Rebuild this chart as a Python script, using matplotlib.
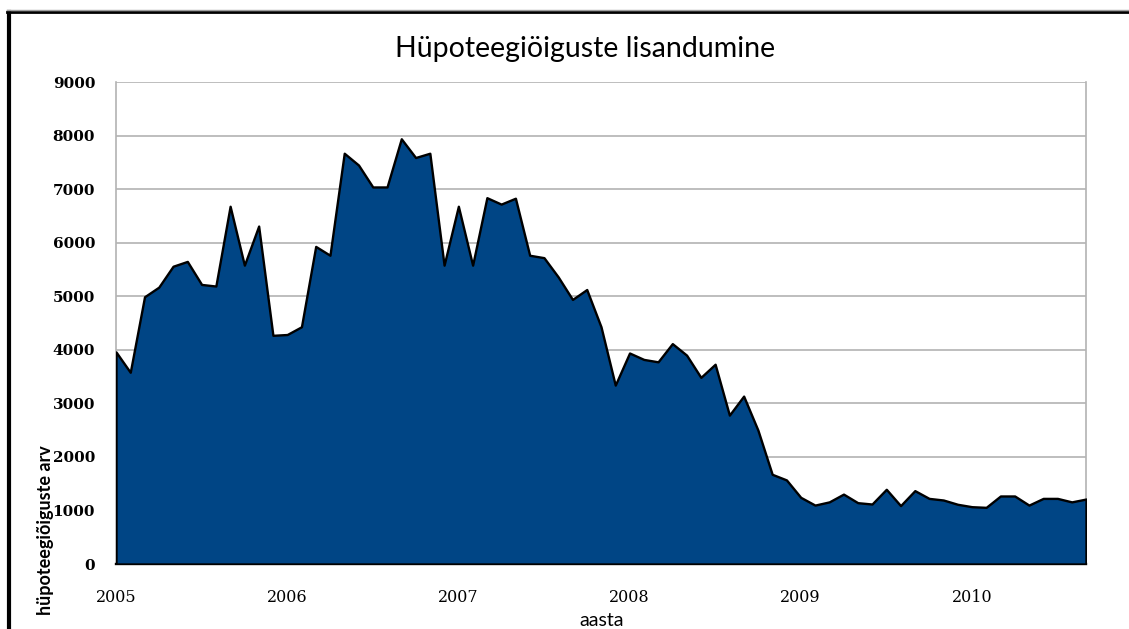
import matplotlib
matplotlib.use('Agg')
import matplotlib.pyplot as plt
from matplotlib.lines import Line2D

# ---- data (monthly, Jan 2005 - Sep 2010) ----
year_ticks = [2005, 2006, 2007, 2008, 2009, 2010]
year_labels = ['2005', '2006', '2007', '2008', '2009', '2010']
values_2005 = [3960, 3580, 4990, 5170, 5560, 5650, 5220, 5190, 6680, 5580, 6310, 4270]
values_2006 = [4285, 4430, 5930, 5765, 7670, 7450, 7040, 7040, 7940, 7590, 7670, 5580]
values_2007 = [6680, 5580, 6840, 6720, 6830, 5765, 5720, 5360, 4940, 5125, 4430, 3340]
values_2008 = [3940, 3820, 3775, 4115, 3900, 3485, 3730, 2780, 3135, 2500, 1675, 1570]
values_2009 = [1245, 1100, 1160, 1305, 1145, 1120, 1395, 1090, 1370, 1225, 1195, 1115]
values_2010 = [1070, 1058, 1270, 1270, 1100, 1225, 1225, 1160, 1213]
y_ticks = [0, 1000, 2000, 3000, 4000, 5000, 6000, 7000, 8000, 9000]

values = values_2005 + values_2006 + values_2007 + values_2008 + values_2009 + values_2010
x = [2005 + i / 12 for i in range(len(values))]

W, H = 1129, 629
fig = plt.figure(figsize=(W / 100, H / 100), dpi=100)
ax = fig.add_axes([116 / W, 65 / H, 970 / W, 482 / H])

ax.fill_between(x, values, 0, facecolor='#004585', edgecolor='black',
                linewidth=1.7, zorder=3)

ax.set_xlim(x[0], x[-1])
ax.set_ylim(0, 9000)
ax.set_yticks(y_ticks)
ax.set_yticklabels([str(v) for v in y_ticks], family='DejaVu Serif',
                   fontweight='bold', fontsize=11)
ax.set_xticks(year_ticks)
ax.set_xticklabels(year_labels, family='DejaVu Serif', fontsize=11.5)
ax.tick_params(axis='both', length=0)
ax.tick_params(axis='y', pad=15)
ax.tick_params(axis='x', pad=18)
ax.grid(axis='y', color='#b3b3b3', linewidth=1.2)
ax.set_axisbelow(True)
ax.spines['top'].set_visible(False)
for s in ('left', 'right'):
    ax.spines[s].set_color('#b3b3b3')
    ax.spines[s].set_linewidth(1.2)
ax.spines['bottom'].set_color('black')
ax.spines['bottom'].set_linewidth(1.7)

fig.text(585 / W, 1 - 57 / H, 'Hüpoteegiöiguste lisandumine', ha='center',
         va='baseline', fontsize=20.5, family='Lato')
fig.text(602 / W, 1 - 620 / H, 'aasta', ha='center', va='center',
         fontsize=14, family='Lato')
fig.text(46 / W, 1 - 530 / H, 'hüpoteegiõiguste arv', ha='center', va='center',
         rotation=90, fontsize=13, family='Lato', fontweight='bold')

# outer frame (top and left edges visible)
fig.add_artist(Line2D([7 / W, 1], [1 - 12 / H, 1 - 12 / H], color='black',
                      linewidth=2, transform=fig.transFigure))
fig.add_artist(Line2D([9 / W, 9 / W], [0, 1 - 12 / H], color='black',
                      linewidth=3, transform=fig.transFigure))
fig.add_artist(Line2D([7 / W, 1], [1 - 10 / H, 1 - 10 / H], color='#a0a0a0',
                      linewidth=1, transform=fig.transFigure))

fig.savefig('out.png', dpi=100)
